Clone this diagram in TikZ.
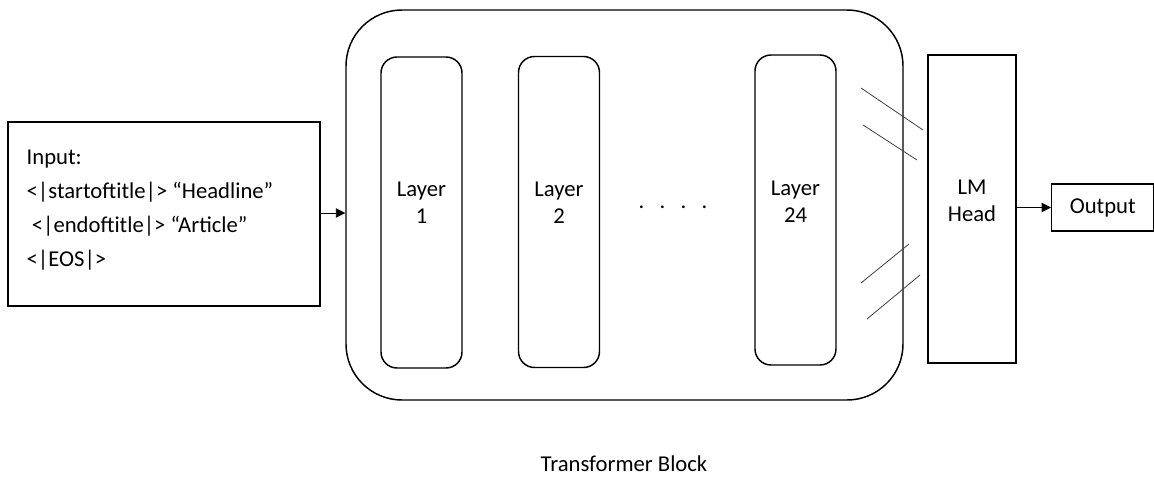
\documentclass[tikz,border=0pt]{standalone}
\usepackage{fontspec}
\setmainfont{Carlito}
\usetikzlibrary{arrows.meta}
\begin{document}
\begin{tikzpicture}[x=0.75pt,y=-0.75pt,
  every node/.style={font=\fontsize{17}{20.5}\selectfont},
  box/.style={draw,line width=1.1pt,inner sep=0pt},
  layerbox/.style={box,rounded corners=12pt,minimum width=81*0.75pt,minimum height=311*0.75pt},
  layertext/.style={align=center},
  link/.style={-{Triangle[length=7pt,width=7pt]},line width=0.6pt},
  slash/.style={line width=0.6pt,black!75}]
\useasboundingbox (0,0) rectangle (1154,476);
% input tokens
\node[box,minimum width=312*0.75pt,minimum height=184*0.75pt] (in) at (164,214) {};
\node[anchor=west,align=left,font=\fontsize{17}{25.5}\selectfont] (intext) at (22,210)
  {Input:\\<|startoftitle|> “Headline”\\\ <|endoftitle|> “Article”\\<|EOS|>};
% transformer block
\node[box,rounded corners=42pt,minimum width=557*0.75pt,minimum height=390*0.75pt] (tb) at (624.5,205) {};
\node[layerbox] (l1) at (421.5,212.5) {};
\node[layerbox] (l2) at (559,212) {};
\node[layerbox,minimum height=310*0.75pt] (l24) at (795.5,210) {};
\node[layertext] (l1t) at (421.5,203) {Layer\\1};
\node[layertext] (l2t) at (559,203) {Layer\\2};
\node[layertext] (l24t) at (795.5,202) {Layer\\24};
\node (dots) at (673,207) {.\ \ \ .\ \ \ .\ \ \ .};
\node (tblabel) at (624,464) {Transformer Block};
% language model head and output
\node[box,minimum width=88*0.75pt,minimum height=308*0.75pt] (lm) at (972,209) {};
\node[layertext] (lmt) at (972,201) {LM\\Head};
\node[box,anchor=west,minimum width=102*0.75pt,minimum height=47*0.75pt] (out) at (1051,207.5) {Output};
\draw[link] (in.east |- 0,213) -- (tb.west |- 0,213);
\draw[link] (lm.east |- out.west) -- (out.west);
% connection strokes between the last layer and the head
\coordinate (a1) at (861,88);  \coordinate (b1) at (923,130);
\coordinate (a2) at (863,125); \coordinate (b2) at (917,160);
\coordinate (a3) at (861,283); \coordinate (b3) at (909,244);
\coordinate (a4) at (867,319); \coordinate (b4) at (920,275);
\draw[slash] (a1) -- (b1);
\draw[slash] (a2) -- (b2);
\draw[slash] (a3) -- (b3);
\draw[slash] (a4) -- (b4);
\end{tikzpicture}
\end{document}
